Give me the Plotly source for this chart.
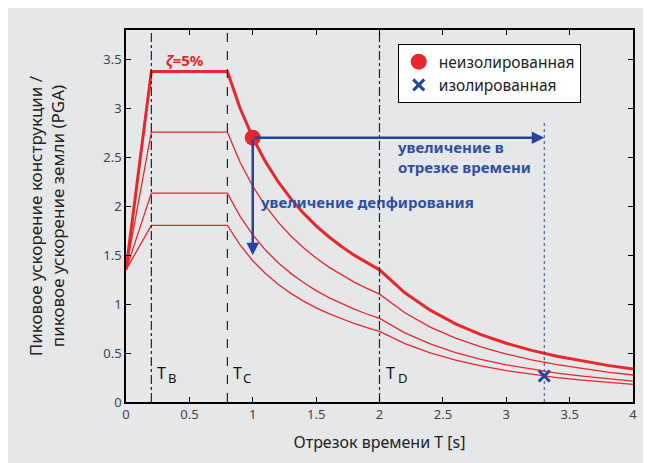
import plotly.graph_objects as go

# Period values T [s]
T = [0, 0.2, 0.8, 0.9, 1.0, 1.1, 1.2, 1.3, 1.4, 1.5, 1.6, 1.7, 1.8, 1.9, 2.0,
     2.2, 2.4, 2.6, 2.8, 3.0, 3.2, 3.4, 3.6, 3.8, 4.0]
# Spectral ratio curves
s5 = [1.35, 3.375, 3.375, 3.0, 2.70, 2.455, 2.25, 2.077, 1.929, 1.80, 1.688, 1.588, 1.50, 1.421, 1.35,
      1.116, 0.938, 0.799, 0.689, 0.60, 0.527, 0.467, 0.417, 0.374, 0.338]
s10 = [1.35, 2.756, 2.756, 2.449, 2.205, 2.004, 1.837, 1.696, 1.575, 1.47, 1.378, 1.297, 1.225, 1.16, 1.102,
       0.911, 0.765, 0.652, 0.562, 0.49, 0.431, 0.381, 0.34, 0.305, 0.276]
s20 = [1.35, 2.134, 2.134, 1.897, 1.708, 1.552, 1.423, 1.314, 1.22, 1.138, 1.067, 1.005, 0.949, 0.899, 0.854,
       0.706, 0.593, 0.505, 0.436, 0.38, 0.334, 0.295, 0.264, 0.237, 0.213]
s30 = [1.35, 1.804, 1.804, 1.604, 1.443, 1.312, 1.203, 1.11, 1.031, 0.962, 0.902, 0.849, 0.802, 0.76, 0.722,
       0.597, 0.501, 0.427, 0.368, 0.321, 0.282, 0.25, 0.223, 0.2, 0.18]

TB, TC, TD = 0.2, 0.8, 2.0
T_iso = 3.3
pt_fixed = (1.0, 2.70)
pt_iso = (3.3, 0.265)
arrow_down_end = 1.50

x_ticks = [0, 0.5, 1, 1.5, 2, 2.5, 3, 3.5, 4]
x_ticklabels = ["0", "0.5", "1", "1.5", "2", "2.5", "3", "3.5", "4"]
y_ticks = [0, 0.5, 1, 1.5, 2, 2.5, 3, 3.5]
y_ticklabels = ["0", "0.5", "1", "1.5", "2", "2.5", "3", "3.5"]

RED = "#e8262b"
BLUE = "#27449a"
TXTBLUE = "#2f4fa2"
BG = "#e6e7e9"
FONT = "Noto Sans"

fig = go.Figure()
for s, w in [(s30, 1.3), (s20, 1.3), (s10, 1.3), (s5, 3)]:
    fig.add_trace(go.Scatter(x=T, y=s, mode="lines", line=dict(color=RED, width=w),
                             showlegend=False, hoverinfo="skip"))

# vertical lines
fig.add_trace(go.Scatter(x=[TB, TB], y=[0, 3.8], mode="lines",
                         line=dict(color="#222", width=1.2, dash="dashdot"), showlegend=False))
fig.add_trace(go.Scatter(x=[TC, TC], y=[0, 3.8], mode="lines",
                         line=dict(color="#222", width=1.2, dash="dash"), showlegend=False))
fig.add_trace(go.Scatter(x=[TD, TD], y=[0, 3.8], mode="lines",
                         line=dict(color="#222", width=1.2, dash="dashdot"), showlegend=False))
fig.add_trace(go.Scatter(x=[T_iso, T_iso], y=[0, 2.85], mode="lines",
                         line=dict(color=BLUE, width=1, dash="dot"), showlegend=False))

# arrows
fig.add_annotation(x=T_iso, y=pt_fixed[1], ax=pt_fixed[0], ay=pt_fixed[1],
                   xref="x", yref="y", axref="x", ayref="y", text="", showarrow=True,
                   arrowhead=2, arrowsize=1, arrowwidth=2.5, arrowcolor=BLUE)
fig.add_annotation(x=pt_fixed[0], y=arrow_down_end, ax=pt_fixed[0], ay=pt_fixed[1],
                   xref="x", yref="y", axref="x", ayref="y", text="", showarrow=True,
                   arrowhead=2, arrowsize=1, arrowwidth=2.5, arrowcolor=BLUE)

fig.add_trace(go.Scatter(x=[pt_fixed[0]], y=[pt_fixed[1]], mode="markers",
                         marker=dict(color=RED, size=16, symbol="circle"),
                         name="неизолированная"))
fig.add_trace(go.Scatter(x=[pt_iso[0]], y=[pt_iso[1]], mode="markers",
                         marker=dict(color=BLUE, size=11, symbol="x-thin",
                                     line=dict(color=BLUE, width=3)),
                         name="изолированная"))

# period labels: "T" with a lowered index letter
def tlabel(xt, xs, sub):
    fig.add_annotation(x=xt, y=0.298, showarrow=False, xanchor="left", text="T",
                       font=dict(size=16, color="#111", family=FONT))
    fig.add_annotation(x=xs, y=0.246, showarrow=False, xanchor="left", text=sub,
                       font=dict(size=13, color="#111", family=FONT))

tlabel(0.232, 0.318, "B")
tlabel(0.832, 0.910, "C")
tlabel(2.038, 2.130, "D")
fig.add_annotation(x=0.30, y=3.49, text="<b><i>ζ</i>=5%</b>", showarrow=False, xanchor="left",
                   font=dict(size=15, color=RED, family=FONT))
fig.add_annotation(x=2.12, y=2.50, text="<b>увеличение в<br>отрезке времени</b>", showarrow=False,
                   xanchor="left", align="left",
                   font=dict(size=15, color=TXTBLUE, family=FONT))
fig.add_annotation(x=1.04, y=2.04, text="<b>увеличение депфирования</b>", showarrow=False,
                   xanchor="left", align="left",
                   font=dict(size=15, color=TXTBLUE, family=FONT))

axis_common = dict(showline=True, linecolor="black", linewidth=1.5, mirror="ticks",
                   ticks="inside", ticklen=5, tickcolor="black", showgrid=False, zeroline=False,
                   tickfont=dict(size=13, color="#444", family=FONT))
fig.update_xaxes(range=[0, 4], tickvals=x_ticks, ticktext=x_ticklabels,
                 title=dict(text="Отрезок времени T [s]", font=dict(size=16, color="#222", family=FONT),
                            standoff=14), **axis_common)
fig.update_yaxes(range=[0, 3.8], tickvals=y_ticks, ticktext=y_ticklabels,
                 title=dict(text="Пиковое ускорение конструкции /<br>пиковое ускорение земли (PGA)",
                            font=dict(size=17, color="#222", family=FONT), standoff=34), **axis_common)

fig.update_layout(width=643, height=455, paper_bgcolor=BG, plot_bgcolor=BG,
                  margin=dict(l=118, r=18, t=22, b=61, autoexpand=False),
                  font=dict(family=FONT),
                  legend=dict(x=0.536, y=0.962, xanchor="left", yanchor="top",
                              bgcolor="white", bordercolor="black", borderwidth=1,
                              font=dict(size=15.5, color="#222", family=FONT),
                              entrywidth=220, entrywidthmode="pixels",
                              itemwidth=30, tracegroupgap=2))

fig.write_html("out.html")
